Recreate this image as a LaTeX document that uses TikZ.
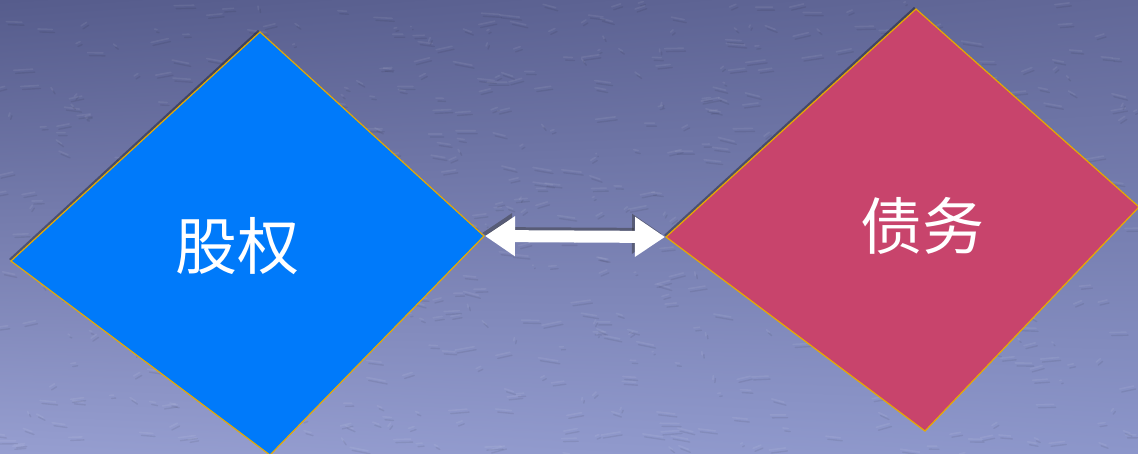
\documentclass[tikz,border=0pt]{standalone}
\usepackage{fontspec}
\newfontfamily\cjk{Noto Sans CJK SC}
\usetikzlibrary{arrows.meta,shadings}
\definecolor{bgTL}{RGB}{86,92,140}
\definecolor{bgTR}{RGB}{98,104,152}
\definecolor{bgBL}{RGB}{150,158,208}
\definecolor{bgBR}{RGB}{140,150,202}
\definecolor{eqblue}{RGB}{0,122,250}
\definecolor{debtpink}{RGB}{200,68,108}
\definecolor{edgegold}{RGB}{230,170,0}
\tikzset{
  diamondface/.style={draw=edgegold, line width=1.2pt, line join=miter},
  label text/.style={font=\cjk\fontsize{62}{62}\selectfont, text=white, inner sep=0pt},
  twoway/.style={white, line width=12pt, {Triangle[width=38pt,length=30pt]}-{Triangle[width=38pt,length=30pt]}, shorten <=1pt, shorten >=1pt},
  twowayshadow/.style={black!80, opacity=0.45, line width=12pt, {Triangle[width=38pt,length=30pt]}-{Triangle[width=38pt,length=30pt]}, shorten <=1pt, shorten >=1pt},
  grainlight/.style={white, opacity=0.07, line width=1.6pt, line cap=round},
  graindark/.style={black, opacity=0.07, line width=1.4pt, line cap=round}
}
\begin{document}
\begin{tikzpicture}[x=1pt,y=-1pt]
\useasboundingbox (0,0) rectangle (1138,453);
\shade[upper left=bgTL, upper right=bgTR, lower left=bgBL, lower right=bgBR] (0,0) rectangle (1138,453);
% stone texture
\pgfmathsetseed{7}
\foreach \i in {1,...,700} {
  \pgfmathsetmacro\gx{rnd*1138}
  \pgfmathsetmacro\gy{rnd*453}
  \pgfmathsetmacro\gdx{rnd*40-20}
  \pgfmathsetmacro\gdy{rnd*8-4}
  \draw[grainlight] (\gx,\gy) -- ++(\gdx,\gdy);
  \draw[graindark] (\gx+2,\gy+3) -- ++(\gdx,\gdy);
}
% left diamond corners
\coordinate (eT) at (260,32);
\coordinate (eL) at (11,261);
\coordinate (eR) at (484,236);
\coordinate (eB) at (270,455);
% right diamond corners
\coordinate (dT) at (916,9);
\coordinate (dL) at (666,237);
\coordinate (dR) at (1139,207);
\coordinate (dB) at (925,431);
\fill[black, opacity=0.35] ([shift={(-2,-2)}]eT) -- ([shift={(-2,-2)}]eL) -- ([shift={(-2,-2)}]eB) -- ([shift={(-2,-2)}]eR) -- cycle;
\fill[black, opacity=0.35] ([shift={(-2,-2)}]dT) -- ([shift={(-2,-2)}]dL) -- ([shift={(-2,-2)}]dB) -- ([shift={(-2,-2)}]dR) -- cycle;
\filldraw[diamondface, fill=eqblue] (eT) -- (eR) -- (eB) -- (eL) -- cycle;
\filldraw[diamondface, fill=debtpink] (dT) -- (dR) -- (dB) -- (dL) -- cycle;
% labels
\node[label text] (equity) at (237,246) {股权};
\node[label text] (debt) at (922,226) {债务};
% connector
\draw[twowayshadow] ([shift={(-3,-3)}]eR) -- ([shift={(-3,-3)}]dL);
\draw[twoway] (eR) -- (dL);
\end{tikzpicture}
\end{document}
